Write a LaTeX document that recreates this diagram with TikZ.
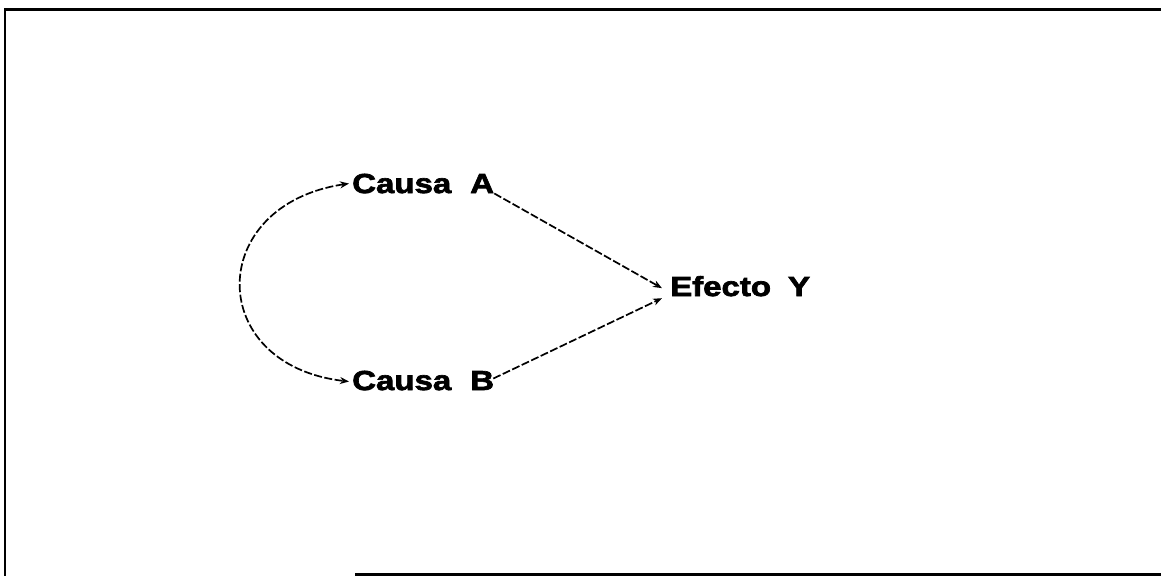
\documentclass[tikz,border=0pt]{standalone}
\usepackage{fontspec}
\newfontfamily\lab{Liberation Sans}[FakeStretch=1.2,FakeBold=2.5]
\usetikzlibrary{arrows.meta}
\begin{document}
\begin{tikzpicture}[x=1pt,y=-1pt,
  lbl/.style={inner sep=0pt,anchor=base west,font=\lab\bfseries\fontsize{27.5}{30}\selectfont},
  tip/.style={-{Stealth[length=9pt,width=7pt]}},
  conn/.style={line width=1.7pt,dash pattern=on 8pt off 2.5pt,tip},
  frame/.style={line width=2.5pt}]
\useasboundingbox (0,0) rectangle (1161,576);
\fill[white] (0,0) rectangle (1161,576);
% frame
\draw[frame,line width=3pt] (4,9.5) -- (1161,9.5);
\draw[frame,line width=2.2pt] (5,9) -- (5,576);
\draw[frame,line width=2.2pt] (355,574.5) -- (1161,574.5);
% nodes
\node[lbl] (cA) at (352,193) {Causa\hspace{19pt}A};
\node[lbl] (cB) at (352,390) {Causa\hspace{19pt}B};
\node[lbl] (eY) at (670,296) {Efecto\hspace{17pt}Y};
% connectors
\draw[conn,{Stealth[length=9pt,width=7pt]}-{Stealth[length=9pt,width=7pt]}]
  ([xshift=-3pt,yshift=0pt]cA.west) .. controls (205,205) and (205,365) .. ([xshift=-3pt,yshift=-1pt]cB.west);
\draw[conn] ([xshift=0pt,yshift=0pt]cA.south east) -- ([xshift=-8pt,yshift=-2pt]eY.west);
\draw[conn] ([xshift=-1pt,yshift=2pt]cB.east) -- ([xshift=-8pt,yshift=-12pt]eY.west);
\end{tikzpicture}
\end{document}
